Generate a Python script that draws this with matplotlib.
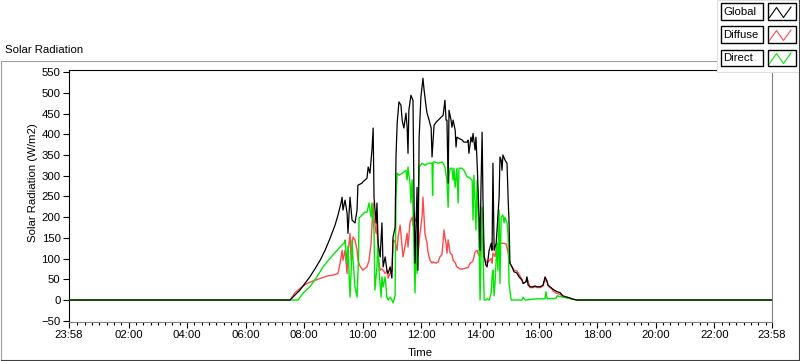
import matplotlib.pyplot as plt
from matplotlib.lines import Line2D
from matplotlib.patches import Rectangle

plt.rcParams['font.family'] = ['Liberation Sans', 'DejaVu Sans']
plt.rcParams['font.size'] = 8

# time in decimal hours (23:58 of the previous day = -2/60)
global_t = [-0.033, 7.51, 7.68, 7.85, 8.02, 8.19, 8.37, 8.54, 8.71, 8.88, 9.05, 9.15, 9.25, 9.29,
            9.32, 9.39, 9.46, 9.49, 9.56, 9.63, 9.73, 9.80, 9.83, 9.97, 10.00, 10.14, 10.18, 10.24,
            10.31, 10.35, 10.38, 10.45, 10.48, 10.52, 10.59, 10.65, 10.69, 10.76, 10.82, 10.86,
            10.93, 10.99, 11.03, 11.10, 11.13, 11.17, 11.23, 11.30, 11.34, 11.40, 11.47, 11.51,
            11.54, 11.57, 11.64, 11.71, 11.75, 11.78, 11.85, 11.88, 11.92, 11.98, 12.05, 12.09,
            12.16, 12.19, 12.26, 12.33, 12.36, 12.43, 12.50, 12.57, 12.67, 12.74, 12.77, 12.80,
            12.84, 12.87, 12.91, 12.94, 13.01, 13.04, 13.08, 13.15, 13.18, 13.21, 13.28, 13.39,
            13.45, 13.56, 13.59, 13.62, 13.69, 13.73, 13.76, 13.83, 13.86, 13.90, 13.97, 14.00,
            14.03, 14.07, 14.10, 14.14, 14.20, 14.24, 14.31, 14.38, 14.41, 14.44, 14.48, 14.55,
            14.58, 14.65, 14.68, 14.72, 14.75, 14.78, 14.85, 14.89, 14.92, 14.96, 14.99, 15.02,
            15.09, 15.16, 15.26, 15.33, 15.43, 15.47, 15.57, 15.60, 15.64, 15.71, 15.81, 15.88,
            15.95, 16.05, 16.15, 16.22, 16.29, 16.32, 16.39, 16.46, 16.49, 16.63, 16.73, 16.83,
            16.97, 17.07, 17.17, 17.31, 23.967]
global_v = [0, 0, 12, 24, 40, 56, 76, 96, 120, 149, 181, 205, 233, 248,
            217, 241, 210, 161, 248, 193, 186, 217, 277, 282, 285, 294, 321, 306,
            362, 415, 248, 186, 234, 137, 104, 186, 80, 104, 72, 64,
            80, 53, 152, 176, 345, 427, 478, 470, 434, 415, 451, 417,
            354, 458, 494, 482, 217, 89, 272, 72, 393, 489, 535, 506,
            465, 451, 434, 415, 345, 422, 429, 434, 441, 446, 463, 482,
            434, 434, 282, 458, 434, 417, 434, 410, 369, 393, 390, 386,
            381, 381, 386, 354, 393, 381, 402, 362, 393, 330, 193, 120,
            265, 405, 241, 104, 84, 80, 120, 137, 120, 330, 120, 137,
            169, 248, 345, 338, 313, 350, 338, 333, 330, 241, 186, 89,
            80, 68, 65, 56, 48, 40, 44, 56, 36, 32, 32, 34,
            32, 32, 36, 56, 45, 36, 32, 28, 26, 20, 18, 10,
            7, 5, 2, 0, 0]

diffuse_t = [-0.033, 7.51, 7.68, 7.85, 8.09, 8.30, 8.54, 8.78, 8.98, 9.15, 9.22, 9.29, 9.32,
             9.39, 9.46, 9.49, 9.56, 9.60, 9.66, 9.73, 9.80, 9.83, 9.90, 10.00, 10.14, 10.18,
             10.21, 10.28, 10.35, 10.38, 10.45, 10.48, 10.52, 10.59, 10.65, 10.69, 10.76, 10.82,
             10.86, 10.93, 10.99, 11.03, 11.10, 11.17, 11.20, 11.27, 11.34, 11.37, 11.44, 11.51,
             11.54, 11.61, 11.68, 11.71, 11.75, 11.78, 11.85, 11.88, 11.95, 12.02, 12.05, 12.12,
             12.19, 12.22, 12.29, 12.36, 12.39, 12.50, 12.57, 12.63, 12.70, 12.77, 12.80, 12.84,
             12.87, 12.91, 12.98, 13.04, 13.08, 13.15, 13.21, 13.32, 13.42, 13.56, 13.59, 13.66,
             13.73, 13.76, 13.83, 13.90, 13.93, 14.00, 14.07, 14.10, 14.14, 14.24, 14.31, 14.38,
             14.41, 14.44, 14.51, 14.58, 14.61, 14.68, 14.75, 14.82, 14.89, 14.96, 15.02, 15.09,
             15.16, 15.26, 15.33, 15.43, 15.47, 15.57, 15.60, 15.67, 15.71, 15.81, 15.88, 15.95,
             16.05, 16.15, 16.22, 16.29, 16.32, 16.39, 16.46, 16.49, 16.59, 16.66, 16.73, 16.83,
             16.97, 17.07, 17.17, 17.31, 23.967]
diffuse_v = [0, 0, 17, 28, 40, 46, 52, 58, 60, 64, 88, 120, 96,
             120, 64, 113, 161, 96, 152, 145, 120, 96, 82, 72, 80, 89,
             96, 137, 234, 200, 161, 186, 104, 72, 75, 72, 64, 72,
             53, 64, 72, 145, 140, 120, 152, 181, 128, 104, 130, 161,
             128, 188, 200, 180, 210, 190, 200, 108, 161, 200, 248, 160,
             137, 116, 96, 89, 92, 89, 92, 104, 110, 169, 152, 137,
             113, 145, 113, 110, 96, 90, 80, 75, 75, 78, 78, 89,
             92, 95, 116, 120, 113, 104, 186, 160, 104, 89, 95, 100,
             89, 113, 105, 137, 128, 137, 137, 137, 135, 113, 89, 80,
             72, 70, 62, 50, 40, 44, 54, 38, 30, 30, 32, 30,
             30, 34, 50, 42, 34, 30, 26, 22, 17, 15, 14, 8,
             6, 4, 2, 0, 0]

direct_t = [-0.033, 7.51, 7.79, 7.96, 8.19, 8.43, 8.64, 8.88, 9.12, 9.29, 9.36, 9.39, 9.46,
            9.49, 9.56, 9.60, 9.63, 9.66, 9.73, 9.80, 9.85, 9.87, 9.97, 10.07, 10.14, 10.21,
            10.28, 10.31, 10.38, 10.41, 10.48, 10.52, 10.55, 10.62, 10.65, 10.69, 10.76, 10.82,
            10.86, 10.93, 10.99, 11.03, 11.10, 11.13, 11.17, 11.23, 11.34, 11.40, 11.47, 11.51,
            11.54, 11.61, 11.64, 11.68, 11.71, 11.75, 11.78, 11.81, 11.85, 11.88, 11.92, 12.02,
            12.12, 12.22, 12.36, 12.38, 12.40, 12.46, 12.57, 12.70, 12.74, 12.80, 12.87, 12.91,
            12.94, 12.98, 13.04, 13.08, 13.11, 13.15, 13.21, 13.25, 13.28, 13.39, 13.45, 13.56,
            13.59, 13.66, 13.73, 13.76, 13.79, 13.83, 13.86, 13.90, 13.93, 13.97, 14.00, 14.07,
            14.10, 14.14, 14.20, 14.24, 14.31, 14.38, 14.41, 14.44, 14.46, 14.48, 14.51, 14.58,
            14.61, 14.65, 14.68, 14.72, 14.78, 14.82, 14.85, 14.92, 14.96, 14.99, 15.06, 15.43,
            15.47, 15.54, 15.95, 16.22, 16.25, 16.29, 16.59, 16.63, 17.31, 23.967]
direct_v = [0, 0, 0, 17, 32, 56, 80, 101, 120, 133, 137, 145, 89,
            130, 7, 72, 145, 100, 32, 7, 100, 198, 205, 212, 212, 234,
            200, 234, 169, 24, 80, 145, 72, 7, 56, 32, 56, 7,
            0, 7, 0, -7, 10, 248, 306, 301, 306, 309, 313, 290,
            321, 282, 234, 290, 217, 104, 17, 152, 64, 217, 321, 330,
            325, 330, 330, 253, 333, 333, 330, 333, 330, 321, 289, 224,
            300, 318, 318, 289, 318, 272, 318, 234, 318, 318, 313, 297,
            297, 294, 289, 193, 301, 241, 169, 289, 220, 120, 0, 224,
            120, 0, 0, 3, 0, 17, 56, 72, 40, 10, 40, 137,
            72, 217, 40, 200, 205, 186, 200, 186, 152, 40, 0, 0,
            7, 0, 3, 3, 20, 3, 4, 10, 0, 0]

series_names = ['Global', 'Diffuse', 'Direct']
series_colors = ['#000000', '#ff4a4a', '#00e800']

tick_hours = [-2 / 60, 2, 4, 6, 8, 10, 12, 14, 16, 18, 20, 22, 23 + 58 / 60]
tick_labels = ['23:58', '02:00', '04:00', '06:00', '08:00', '10:00', '12:00',
               '14:00', '16:00', '18:00', '20:00', '22:00', '23:58']
y_ticks = [-50, 0, 50, 100, 150, 200, 250, 300, 350, 400, 450, 500, 550]

W, H = 800, 361


def fx(px):
    return px / W


def fy(py):
    return 1 - py / H


fig = plt.figure(figsize=(W / 100, H / 100), dpi=100)
fig.patch.set_facecolor('white')

ax = fig.add_axes([fx(69), fy(322), (772 - 69) / W, (322 - 70) / H])
ax.plot(diffuse_t, diffuse_v, color=series_colors[1], lw=1.0, zorder=2)
ax.plot(direct_t, direct_v, color=series_colors[2], lw=1.0, zorder=3)
ax.plot(global_t, global_v, color=series_colors[0], lw=0.9, zorder=4)

ax.set_xlim(-2 / 60, 23 + 58 / 60)
ax.set_ylim(-53, 555)
ax.set_xticks(tick_hours)
ax.set_xticklabels(tick_labels)
minor = [m / 4 for m in range(1, 96) if m % 8 != 0]
ax.set_xticks(minor, minor=True)
ax.set_yticks(y_ticks)
ax.tick_params(axis='both', which='major', direction='out', length=4, width=0.8,
               labelsize=8.2, pad=2)
ax.tick_params(axis='x', which='minor', direction='out', length=2.5, width=0.8)
ax.spines['left'].set_color('black')
ax.spines['top'].set_color('black')
ax.spines['bottom'].set_color('#808080')
ax.spines['right'].set_color('#808080')
for s in ax.spines.values():
    s.set_linewidth(0.8)

fig.text(fx(420), fy(353), 'Time', ha='center', va='center', fontsize=8.2)
fig.text(fx(33), fy(183), 'Solar Radiation (W/m2)', rotation=90,
         ha='center', va='center', fontsize=8.2)
fig.text(fx(5), fy(50), 'Solar Radiation', ha='left', va='center', fontsize=8.2)

# outer frame
fig.add_artist(Line2D([fx(1), fx(717)], [fy(61), fy(61)], transform=fig.transFigure,
                      color='#a0a0a0', lw=0.8))
fig.add_artist(Line2D([fx(1), fx(1)], [fy(61), fy(360)], transform=fig.transFigure,
                      color='#a0a0a0', lw=0.8))
fig.add_artist(Line2D([fx(1), fx(799)], [fy(360), fy(360)], transform=fig.transFigure,
                      color='#404040', lw=0.8))

# legend panel
fig.add_artist(Rectangle((fx(717), fy(72)), (800 - 717) / W, 72 / H, transform=fig.transFigure,
                         facecolor='white', edgecolor='#e0e0e0', lw=0.8, zorder=5))
fig.add_artist(Line2D([fx(798.5), fx(798.5)], [fy(0), fy(360)], transform=fig.transFigure,
                      color='#404040', lw=0.8, zorder=6))
row_tops = [3.5, 26.5, 49.5]
for name, col, top in zip(series_names, series_colors, row_tops):
    fig.add_artist(Rectangle((fx(720.5), fy(top + 16.5)), 42.5 / W, 16.5 / H,
                             transform=fig.transFigure, facecolor='white',
                             edgecolor='black', lw=1.0, zorder=6))
    fig.add_artist(Rectangle((fx(767.5), fy(top + 16.5)), 28.5 / W, 16.5 / H,
                             transform=fig.transFigure, facecolor='white',
                             edgecolor='black', lw=1.0, zorder=6))
    fig.text(fx(723), fy(top + 8.5), name, ha='left', va='center', fontsize=8.2, zorder=7)
    fig.add_artist(Line2D([fx(769.5), fx(776.5), fx(783.5), fx(791)],
                          [fy(top + 14), fy(top + 4), fy(top + 14), fy(top + 3.5)],
                          transform=fig.transFigure, color=col, lw=0.8, zorder=7))

fig.savefig('out.png', dpi=100)
